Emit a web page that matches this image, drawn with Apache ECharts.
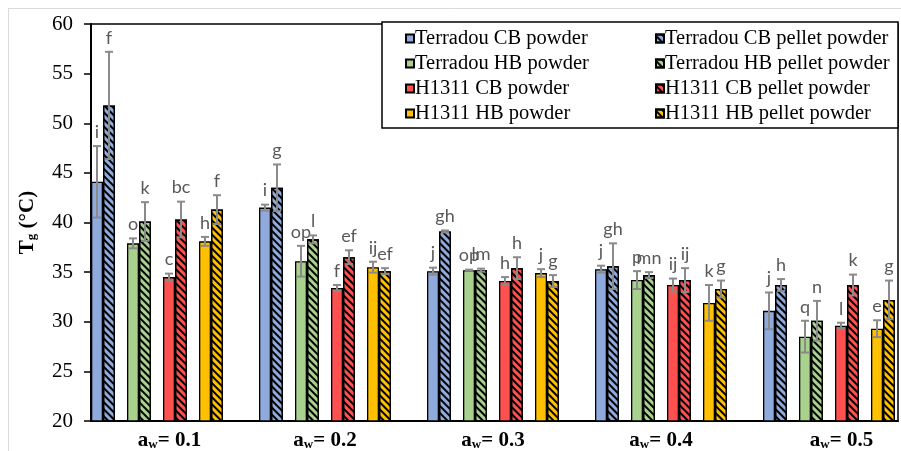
<!DOCTYPE html>
<html><head><meta charset="utf-8">
<script src="https://cdn.jsdelivr.net/npm/echarts@6/dist/echarts.min.js"></script>
<style>html,body{margin:0;padding:0;background:#fff}#c{width:901px;height:451px}</style>
</head><body><div id="c"></div>
<script>
// ---- data ----
const categories = ['0.1', '0.2', '0.3', '0.4', '0.5'];
const seriesNames = ['Terradou CB powder', 'Terradou CB pellet powder', 'Terradou HB powder', 'Terradou HB pellet powder',
  'H1311 CB powder', 'H1311 CB pellet powder', 'H1311 HB powder', 'H1311 HB pellet powder'];
const tcbPowder  = [44.1, 41.5, 35.1, 35.3, 31.1];
const tcbPellet  = [51.8, 43.5, 39.1, 35.6, 33.7];
const thbPowder  = [37.9, 36.1, 35.2, 34.2, 28.5];
const thbPellet  = [40.1, 38.3, 35.2, 34.7, 30.1];
const hcbPowder  = [34.5, 33.4, 34.1, 33.7, 29.6];
const hcbPellet  = [40.3, 36.5, 35.4, 34.2, 33.7];
const hhbPowder  = [38.1, 35.5, 34.9, 31.9, 29.3];
const hhbPellet  = [41.3, 35.1, 34.1, 33.3, 32.2];
const tcbPowderErr = [3.6, 0.3, 0.35, 0.35, 1.85];
const tcbPelletErr = [5.4, 2.35, 0.1, 2.3, 0.6];
const thbPowderErr = [0.5, 1.55, 0.05, 0.9, 1.6];
const thbPelletErr = [1.95, 0.4, 0.15, 0.3, 2.0];
const hcbPowderErr = [0.35, 0.3, 0.4, 0.65, 0.3];
const hcbPelletErr = [1.8, 0.7, 1.1, 1.2, 1.05];
const hhbPowderErr = [0.45, 0.55, 0.4, 1.8, 0.85];
const hhbPelletErr = [1.45, 0.3, 0.6, 0.85, 1.95];
const tcbPowderLetters = ['i', 'i', 'j', 'j', 'j'];
const tcbPelletLetters = ['f', 'g', 'gh', 'gh', 'h'];
const thbPowderLetters = ['o', 'op', 'op', 'p', 'q'];
const thbPelletLetters = ['k', 'l', 'lm', 'mn', 'n'];
const hcbPowderLetters = ['c', 'f', 'h', 'ij', 'l'];
const hcbPelletLetters = ['bc', 'ef', 'h', 'ij', 'k'];
const hhbPowderLetters = ['h', 'ij', 'j', 'k', 'e'];
const hhbPelletLetters = ['f', 'ef', 'g', 'g', 'g'];
const yTicks = [20, 25, 30, 35, 40, 45, 50, 55, 60];

// ---- styling / layout ----
const colors = ['#8FAADC', '#8FAADC', '#A9D18E', '#A9D18E', '#FF5050', '#FF5050', '#FFC000', '#FFC000'];
const hatched = [false, true, false, true, false, true, false, true];
const values = [tcbPowder, tcbPellet, thbPowder, thbPellet, hcbPowder, hcbPellet, hhbPowder, hhbPellet];
const errs = [tcbPowderErr, tcbPelletErr, thbPowderErr, thbPelletErr, hcbPowderErr, hcbPelletErr, hhbPowderErr, hhbPelletErr];
const letters = [tcbPowderLetters, tcbPelletLetters, thbPowderLetters, thbPelletLetters, hcbPowderLetters, hcbPelletLetters, hhbPowderLetters, hhbPelletLetters];
const slots = [0, 1, 3, 4, 6, 7, 9, 10]; // slot 2,5,8 are gaps
const NSLOT = 11, BAR_W = 12;
const SERIF = 'Liberation Serif';

const decal = { symbol: 'rect', symbolSize: 1, dashArrayX: [1, 0], dashArrayY: [2, 2.5], rotation: Math.PI / 4, color: '#000' };

const series = [];
const slotSeries = new Array(NSLOT).fill(null);
seriesNames.forEach((n, i) => { slotSeries[slots[i]] = i; });
slotSeries.forEach((si, s) => {
  if (si === null) {
    series.push({ type: 'bar', name: '_gap' + s, data: [], barWidth: BAR_W, barGap: '0%' });
  } else {
    const st = { color: colors[si], borderColor: '#000', borderWidth: 1.3 };
    if (hatched[si]) st.decal = decal;
    series.push({
      type: 'bar', name: seriesNames[si], barWidth: BAR_W, barGap: '0%',
      itemStyle: st, emphasis: { disabled: true },
      data: categories.map((c, k) => [k, values[si][k]])
    });
  }
});

const errData = [];
const errLetters = [];
values.forEach((arr, si) => arr.forEach((v, k) => {
  errData.push([k, v, errs[si][k], slots[si]]);
  errLetters.push(letters[si][k]);
}));
series.push({
  type: 'custom', name: 'err', z: 10, silent: true,
  data: errData,
  renderItem: function (params, api) {
    const x = api.value(0), v = api.value(1), e = api.value(2), s = api.value(3);
    const top = api.coord([x, v + e]);
    const bot = api.coord([x, v - e]);
    const cx = top[0] + (s - (NSLOT - 1) / 2) * BAR_W;
    const ls = { stroke: '#8a8a8a', lineWidth: 2 };
    return {
      type: 'group', children: [
        { type: 'line', shape: { x1: cx, y1: top[1], x2: cx, y2: bot[1] }, style: ls },
        { type: 'line', shape: { x1: cx - 4, y1: top[1], x2: cx + 4, y2: top[1] }, style: ls },
        { type: 'line', shape: { x1: cx - 4, y1: bot[1], x2: cx + 4, y2: bot[1] }, style: ls },
        { type: 'text', x: cx, y: top[1] - 14, style: { text: errLetters[params.dataIndex], fill: '#595959', font: '18px Lato', align: 'center', verticalAlign: 'middle' } }
      ]
    };
  }
});

const powderNames = seriesNames.filter((n, i) => !hatched[i]);
const pelletNames = seriesNames.filter((n, i) => hatched[i]);
const legendCommon = {
  orient: 'vertical', top: 28, padding: 0, itemGap: 4, itemWidth: 8, itemHeight: 8, icon: 'rect', z: 5,
  selectedMode: false,
  textStyle: { fontFamily: SERIF, fontSize: 20.5, color: '#000', padding: [0, 0, 0, -4] }
};

const chart = echarts.init(document.getElementById('c'), null, { renderer: 'canvas' });
chart.setOption({
  animation: false,
  grid: { left: 91, right: 3, top: 24, bottom: 27, show: true, borderColor: '#000', borderWidth: 1.5 },
  legend: [
    Object.assign({}, legendCommon, { left: 405, data: powderNames }),
    Object.assign({}, legendCommon, { left: 655, data: pelletNames })
  ],
  graphic: [
    { type: 'rect', z: 0, shape: { x: 8.5, y: 8.5, width: 1000, height: 1000 }, style: { fill: 'none', stroke: '#d9d9d9', lineWidth: 1 } },
    { type: 'rect', z: 1, shape: { x: 382, y: 22, width: 516, height: 106 }, style: { fill: '#fff', stroke: '#000', lineWidth: 1.5 } }
  ],
  xAxis: {
    type: 'value', min: -0.3929, max: 4.4107,
    axisLine: { show: true, onZero: false, lineStyle: { color: '#000', width: 2 } },
    axisTick: { show: false }, splitLine: { show: false },
    axisLabel: {
      customValues: [0, 1, 2, 3, 4], margin: 9,
      formatter: v => {
        const k = Math.round(v);
        const pad = (k === 0 || k === categories.length - 1) ? '{p| }' : '';
        return pad + '{a|a}{s|w}{a|= ' + categories[k] + '}';
      },
      rich: {
        p: { width: 25, fontSize: 21 },
        a: { fontFamily: SERIF, fontWeight: 'bold', fontSize: 21, color: '#000' },
        s: { fontFamily: SERIF, fontWeight: 'bold', fontSize: 13, color: '#000', verticalAlign: 'bottom', padding: [8, 0, 0, 0] }
      }
    }
  },
  yAxis: {
    type: 'value', min: 20, max: 60, interval: 5,
    axisLine: { show: true, onZero: false, lineStyle: { color: '#000', width: 2 } },
    axisTick: { show: true, length: 7, lineStyle: { color: '#000', width: 1.5 } },
    splitLine: { show: false },
    axisLabel: { fontFamily: SERIF, fontSize: 21, color: '#000', margin: 18 },
    name: '{a|T}{s|g}{a| (°C)}', nameLocation: 'middle', nameGap: 53, nameRotate: 90,
    nameTextStyle: {
      rich: {
        a: { fontFamily: SERIF, fontWeight: 'bold', fontSize: 21, color: '#000' },
        s: { fontFamily: SERIF, fontWeight: 'bold', fontSize: 13, color: '#000', verticalAlign: 'bottom', padding: [8, 0, 0, 0] }
      }
    }
  },
  series: series
});
</script>
</body></html>
